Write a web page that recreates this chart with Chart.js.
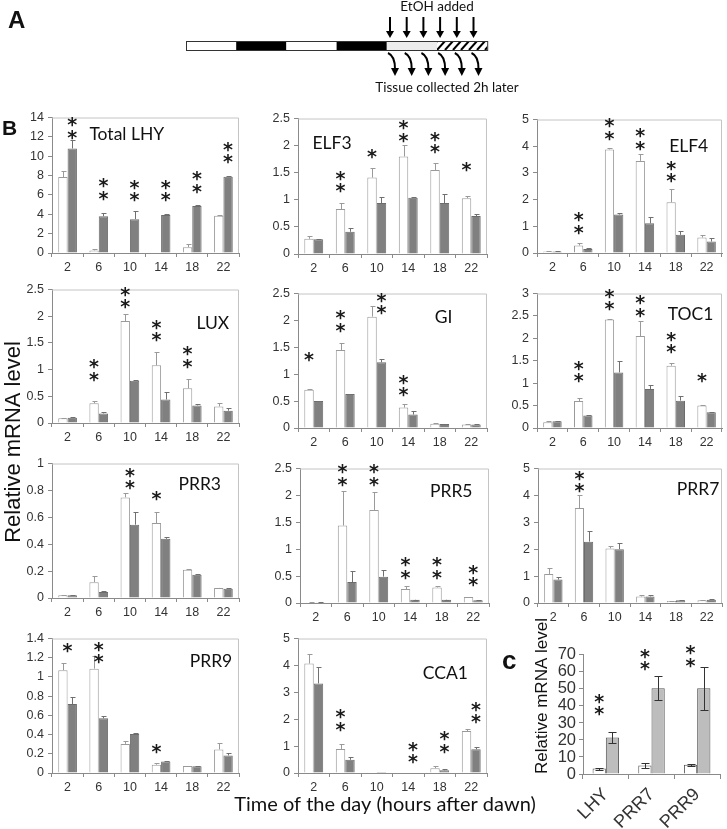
<!DOCTYPE html>
<html lang="en">
<head>
<meta charset="UTF-8">
<title>Clock gene expression after EtOH</title>
<script src="https://cdn.jsdelivr.net/npm/chart.js@4.4.0/dist/chart.umd.min.js"></script>
<style>
  body { margin: 0; background: #fff; }
  #fig { position: relative; width: 727px; height: 829px; overflow: hidden; }
  #fig canvas { position: absolute; }
  .txt { position: absolute; white-space: nowrap; color: #111; }
  .panel { font-family: "Liberation Sans", Arial, sans-serif; font-weight: bold; }
</style>
</head>
<body>
<div id="fig">
  <canvas id="bg" width="727" height="829" style="left:0;top:0;width:727px;height:829px;"></canvas>
  <div class="txt panel" style="left:8px;top:6px;font-size:24px;">A</div>
  <div class="txt panel" style="left:2px;top:116px;font-size:21px;">B</div>
  <div class="txt panel" style="left:502px;top:645px;font-size:26px;">c</div>
</div>
<script>
const hours = ['2', '6', '10', '14', '18', '22'];

// white = control, grey = EtOH; errors are upward deltas
const lhyCtrl = [7.85, 0.27, 0.04, 0.04, 0.6, 3.86];
const lhyCtrlErr = [0.65, 0.12, 0, 0, 0.32, 0.04];
const lhyEtoh = [10.8, 3.8, 3.5, 3.93, 4.85, 7.88];
const lhyEtohErr = [0.85, 0.35, 0.8, 0.12, 0.07, 0.06];
const lhyStars = ['**', '**', '**', '**', '**', '**'];
const lhyStarOn = ['g', 'g', 'g', 'g', 'g', 'g'];
const lhyStarY = [11.7, 5.4, 5.25, 5.25, 6.1, 9.15];

const elf3Ctrl = [0.28, 0.83, 1.41, 1.8, 1.55, 1.03];
const elf3CtrlErr = [0.05, 0.11, 0.17, 0.22, 0.13, 0.04];
const elf3Etoh = [0.27, 0.41, 0.94, 1.04, 0.94, 0.7];
const elf3EtohErr = [0.01, 0.07, 0.12, 0.01, 0.16, 0.03];
const elf3Stars = ['', '**', '*', '**', '**', '*'];
const elf3StarOn = ['w', 'w', 'w', 'w', 'w', 'w'];
const elf3StarY = [0, 1.12, 1.75, 2.05, 1.84, 1.52];

const elf4Ctrl = [0.06, 0.28, 3.88, 3.45, 1.9, 0.58];
const elf4CtrlErr = [0.01, 0.08, 0.05, 0.24, 0.48, 0.1];
const elf4Etoh = [0.06, 0.15, 1.44, 1.11, 0.68, 0.43];
const elf4EtohErr = [0.01, 0.02, 0.06, 0.24, 0.14, 0.12];
const elf4Stars = ['', '**', '**', '**', '**', ''];
const elf4StarOn = ['w', 'w', 'w', 'w', 'w', 'w'];
const elf4StarY = [0, 0.68, 4.2, 3.83, 2.62, 0];

const luxCtrl = [0.09, 0.37, 1.91, 1.08, 0.65, 0.31];
const luxCtrlErr = [0.01, 0.04, 0.14, 0.25, 0.18, 0.06];
const luxEtoh = [0.1, 0.18, 0.79, 0.44, 0.33, 0.23];
const luxEtohErr = [0.01, 0.02, 0.01, 0.14, 0.03, 0.05];
const luxStars = ['', '**', '**', '**', '**', ''];
const luxStarOn = ['w', 'w', 'w', 'w', 'w', 'w'];
const luxStarY = [0, 0.77, 2.13, 1.51, 1.02, 0];

const giCtrl = [0.71, 1.45, 2.07, 0.38, 0.08, 0.065];
const giCtrlErr = [0.02, 0.13, 0.2, 0.07, 0.01, 0.005];
const giEtoh = [0.5, 0.63, 1.22, 0.25, 0.075, 0.065];
const giEtohErr = [0.01, 0.01, 0.06, 0.07, 0.005, 0.005];
const giStars = ['*', '**', '**', '**', '', ''];
const giStarOn = ['w', 'w', 'g', 'w', 'w', 'w'];
const giStarY = [1.22, 1.77, 2.1, 0.57, 0, 0];

const toc1Ctrl = [0.13, 0.6, 2.42, 2.05, 1.39, 0.5];
const toc1CtrlErr = [0.03, 0.08, 0.01, 0.33, 0.07, 0.02];
const toc1Etoh = [0.15, 0.28, 1.24, 0.87, 0.61, 0.35];
const toc1EtohErr = [0.01, 0.02, 0.25, 0.1, 0.11, 0.01];
const toc1Stars = ['', '**', '**', '**', '**', '*'];
const toc1StarOn = ['w', 'w', 'w', 'w', 'w', 'w'];
const toc1StarY = [0, 1.0, 2.6, 2.46, 1.65, 1.0];

const prr3Ctrl = [0.02, 0.118, 0.748, 0.557, 0.21, 0.075];
const prr3CtrlErr = [0.003, 0.045, 0.03, 0.08, 0.007, 0.003];
const prr3Etoh = [0.02, 0.045, 0.545, 0.44, 0.172, 0.068];
const prr3EtohErr = [0.003, 0.01, 0.095, 0.015, 0.003, 0.003];
const prr3Stars = ['', '', '**', '*', '', ''];
const prr3StarOn = ['w', 'w', 'c', 'w', 'w', 'w'];
const prr3StarY = [0, 0, 0.8, 0.72, 0, 0];

const prr5Ctrl = [0.015, 1.44, 1.73, 0.26, 0.29, 0.11];
const prr5CtrlErr = [0.003, 0.64, 0.34, 0.06, 0.02, 0.01];
const prr5Etoh = [0.015, 0.39, 0.49, 0.06, 0.06, 0.05];
const prr5EtohErr = [0.003, 0.21, 0.12, 0.005, 0.005, 0.005];
const prr5Stars = ['', '**', '**', '**', '**', '**'];
const prr5StarOn = ['w', 'w', 'w', 'w', 'w', 'c'];
const prr5StarY = [0, 2.16, 2.16, 0.43, 0.43, 0.29];

const prr7Ctrl = [1.08, 3.53, 2.03, 0.245, 0.07, 0.1];
const prr7CtrlErr = [0.22, 0.47, 0.1, 0.05, 0.01, 0.03];
const prr7Etoh = [0.87, 2.28, 2.0, 0.245, 0.1, 0.12];
const prr7EtohErr = [0.11, 0.39, 0.24, 0.05, 0.01, 0.04];
const prr7Stars = ['', '**', '', '', '', ''];
const prr7StarOn = ['w', 'w', 'w', 'w', 'w', 'w'];
const prr7StarY = [0, 4.08, 0, 0, 0, 0];

const prr9Ctrl = [1.07, 1.086, 0.303, 0.086, 0.072, 0.245];
const prr9CtrlErr = [0.07, 0.13, 0.027, 0.021, 0.003, 0.065];
const prr9Etoh = [0.717, 0.569, 0.407, 0.12, 0.069, 0.183];
const prr9EtohErr = [0.069, 0.021, 0.013, 0.005, 0.003, 0.027];
const prr9Stars = ['*', '**', '', '*', '', ''];
const prr9StarOn = ['c', 'c', 'w', 'w', 'w', 'w'];
const prr9StarY = [1.245, 1.13, 0, 0.2, 0, 0];

const cca1Ctrl = [4.07, 0.895, 0.03, 0.02, 0.18, 1.56];
const cca1CtrlErr = [0.34, 0.175, 0, 0, 0.09, 0.06];
const cca1Etoh = [3.33, 0.49, 0.04, 0.02, 0.1, 0.88];
const cca1EtohErr = [0.62, 0.12, 0, 0, 0.05, 0.08];
const cca1Stars = ['', '**', '', '**', '**', '**'];
const cca1StarOn = ['w', 'w', 'w', 'g', 'g', 'g'];
const cca1StarY = [0, 1.53, 0, 0.33, 0.71, 1.81];

// panel c
const cGenes = ['LHY', 'PRR7', 'PRR9'];
const cCtrl = [3.2, 5.0, 5.5];
const cCtrlErr = [0.6, 1.2, 0.6];
const cEtoh = [21.4, 50.4, 50.4];
const cEtohErr = [3.4, 7.2, 12.5];
const cStars = ['**', '**', '**'];
const cStarOn = ['w', 'w', 'w'];
const cStarY = [33.8, 60.5, 62.4];

Chart.defaults.font.family = '"Liberation Sans", Arial, sans-serif';
Chart.defaults.color = '#333';

const fig = document.getElementById('fig');
const fmt = v => String(+(+v).toFixed(2));

function starX(chart, i, on) {
  const a = chart.getDatasetMeta(0).data[i], b = chart.getDatasetMeta(1).data[i];
  if (on === 'w') return a.x;
  if (on === 'g') return b.x;
  return (a.x + b.x) / 2;
}

function drawStars(chart, p, size) {
  const ctx = chart.ctx, y = chart.scales.y;
  ctx.save();
  ctx.fillStyle = '#1a1a1a';
  ctx.font = 'bold ' + size + 'px "DejaVu Sans"';
  ctx.textAlign = 'center';
  const m = ctx.measureText('*');
  const h = m.actualBoundingBoxAscent + m.actualBoundingBoxDescent;
  p.stars.forEach((s, i) => {
    if (!s) return;
    const x = starX(chart, i, p.starOn[i]);
    let bottom = y.getPixelForValue(p.starY[i]);
    for (let k = 0; k < s.length; k++) {
      ctx.fillText('*', x, bottom - m.actualBoundingBoxDescent);
      bottom -= h + 2.5;
    }
  });
  ctx.restore();
}

const YW = 46, PT = 10, PR = 6, XH = 26;

function addPanel(p) {
  const [l, t, r, b] = p.box;
  const W = r - l + YW + PR, H = b - t + PT + XH;
  const cv = document.createElement('canvas');
  cv.width = W; cv.height = H;
  cv.style.left = (l - YW) + 'px';
  cv.style.top = (t - PT) + 'px';
  cv.style.width = W + 'px'; cv.style.height = H + 'px';
  fig.appendChild(cv);

  const extras = {
    id: 'extras',
    beforeDatasetsDraw(chart) {
      const a = chart.chartArea, ctx = chart.ctx;
      ctx.save();
      ctx.strokeStyle = '#c4c4c4';
      ctx.lineWidth = 1;
      ctx.beginPath();
      ctx.moveTo(a.left, a.top + 0.5); ctx.lineTo(a.right - 0.5, a.top + 0.5); ctx.lineTo(a.right - 0.5, a.bottom);
      ctx.stroke();
      ctx.restore();
    },
    afterDatasetsDraw(chart) {
      const ctx = chart.ctx, y = chart.scales.y, a = chart.chartArea;
      ctx.save();
      [[p.ctrl, p.ctrlErr, '#9a9a9a'], [p.etoh, p.etohErr, '#707070']].forEach(([vals, errs, col], di) => {
        chart.getDatasetMeta(di).data.forEach((bar, i) => {
          if (!errs[i]) return;
          const y0 = y.getPixelForValue(vals[i]), y1 = Math.round(y.getPixelForValue(vals[i] + errs[i])) + 0.5;
          const x = Math.round(bar.x) + 0.5;
          ctx.strokeStyle = col; ctx.lineWidth = 1;
          ctx.beginPath();
          ctx.moveTo(x, y0); ctx.lineTo(x, y1);
          ctx.moveTo(x - 2, y1); ctx.lineTo(x + 3, y1);
          ctx.stroke();
        });
      });
      ctx.restore();
      drawStars(chart, p, 19);
      ctx.save();
      ctx.fillStyle = '#111';
      ctx.font = '17.5px Lato';
      ctx.textAlign = 'center';
      ctx.textBaseline = 'middle';
      ctx.fillText(p.name, a.left + p.lab[0] * (a.right - a.left), a.top + p.lab[1] * (a.bottom - a.top));
      ctx.restore();
    }
  };

  new Chart(cv, {
    type: 'bar',
    data: {
      labels: hours,
      datasets: [
        { data: p.ctrl, backgroundColor: '#ffffff', borderColor: '#9a9a9a', borderWidth: 1 },
        { data: p.etoh, backgroundColor: '#808080', borderColor: '#6c6c6c', borderWidth: 1 }
      ]
    },
    options: {
      responsive: false,
      animation: false,
      events: [],
      layout: { padding: { top: PT, right: PR, left: 0, bottom: 0 } },
      plugins: { legend: { display: false }, tooltip: { enabled: false } },
      datasets: { bar: { categoryPercentage: 0.6, barPercentage: 1 } },
      scales: {
        x: {
          grid: { offset: true, drawOnChartArea: false, tickLength: 4, color: '#8a8a8a' },
          border: { color: '#8a8a8a' },
          ticks: { font: { size: 12.5 }, color: '#333', padding: 3, maxRotation: 0, autoSkip: false },
          afterFit(s) { s.height = XH; }
        },
        y: {
          min: 0, max: p.max,
          grid: { drawOnChartArea: false, tickLength: 4, color: '#8a8a8a' },
          border: { color: '#8a8a8a' },
          ticks: { stepSize: p.step, font: { size: 12.5 }, color: '#333', padding: 4, autoSkip: false, callback: fmt },
          afterFit(s) { s.width = YW; }
        }
      }
    },
    plugins: [extras]
  });
}

const panels = [
  { name: 'Total LHY', ctrl: lhyCtrl, ctrlErr: lhyCtrlErr, etoh: lhyEtoh, etohErr: lhyEtohErr, stars: lhyStars, starOn: lhyStarOn, starY: lhyStarY, max: 14, step: 2, box: [52, 116, 239, 253], lab: [0.4, 0.124] },
  { name: 'ELF3', ctrl: elf3Ctrl, ctrlErr: elf3CtrlErr, etoh: elf3Etoh, etohErr: elf3EtohErr, stars: elf3Stars, starOn: elf3StarOn, starY: elf3StarY, max: 2.5, step: 0.5, box: [298, 117, 487, 254], lab: [0.18, 0.18] },
  { name: 'ELF4', ctrl: elf4Ctrl, ctrlErr: elf4CtrlErr, etoh: elf4Etoh, etohErr: elf4EtohErr, stars: elf4Stars, starOn: elf4StarOn, starY: elf4StarY, max: 5, step: 1, box: [537, 118, 722, 253], lab: [0.82, 0.2] },
  { name: 'LUX', ctrl: luxCtrl, ctrlErr: luxCtrlErr, etoh: luxEtoh, etohErr: luxEtohErr, stars: luxStars, starOn: luxStarOn, starY: luxStarY, max: 2.5, step: 0.5, box: [52, 288, 239, 423], lab: [0.86, 0.25] },
  { name: 'GI', ctrl: giCtrl, ctrlErr: giCtrlErr, etoh: giEtoh, etohErr: giEtohErr, stars: giStars, starOn: giStarOn, starY: giStarY, max: 2.5, step: 0.5, box: [298, 292, 487, 428], lab: [0.77, 0.18] },
  { name: 'TOC1', ctrl: toc1Ctrl, ctrlErr: toc1CtrlErr, etoh: toc1Etoh, etohErr: toc1EtohErr, stars: toc1Stars, starOn: toc1StarOn, starY: toc1StarY, max: 3, step: 0.5, box: [537, 292, 722, 428], lab: [0.83, 0.155] },
  { name: 'PRR3', ctrl: prr3Ctrl, ctrlErr: prr3CtrlErr, etoh: prr3Etoh, etohErr: prr3EtohErr, stars: prr3Stars, starOn: prr3StarOn, starY: prr3StarY, max: 1, step: 0.2, box: [52, 462, 239, 598], lab: [0.79, 0.155] },
  { name: 'PRR5', ctrl: prr5Ctrl, ctrlErr: prr5CtrlErr, etoh: prr5Etoh, etohErr: prr5EtohErr, stars: prr5Stars, starOn: prr5StarOn, starY: prr5StarY, max: 2.5, step: 0.5, box: [300, 467, 489, 603], lab: [0.8, 0.17] },
  { name: 'PRR7', ctrl: prr7Ctrl, ctrlErr: prr7CtrlErr, etoh: prr7Etoh, etohErr: prr7EtohErr, stars: prr7Stars, starOn: prr7StarOn, starY: prr7StarY, max: 5, step: 1, box: [538, 467, 722, 603], lab: [0.87, 0.155] },
  { name: 'PRR9', ctrl: prr9Ctrl, ctrlErr: prr9CtrlErr, etoh: prr9Etoh, etohErr: prr9EtohErr, stars: prr9Stars, starOn: prr9StarOn, starY: prr9StarY, max: 1.4, step: 0.2, box: [52, 637, 239, 773], lab: [0.85, 0.17] },
  { name: 'CCA1', ctrl: cca1Ctrl, ctrlErr: cca1CtrlErr, etoh: cca1Etoh, etohErr: cca1EtohErr, stars: cca1Stars, starOn: cca1StarOn, starY: cca1StarY, max: 5, step: 1, box: [298, 637, 487, 773], lab: [0.78, 0.26] }
];
panels.forEach(addPanel);

// panel c
(function () {
  const l = 583, t = 652, r = 720, b = 774;
  const yw = 40, pt = 10, pr = 6, xh = 56;
  const W = r - l + yw + pr, H = b - t + pt + xh;
  const cv = document.createElement('canvas');
  cv.width = W; cv.height = H;
  cv.style.left = (l - yw) + 'px'; cv.style.top = (t - pt) + 'px';
  cv.style.width = W + 'px'; cv.style.height = H + 'px';
  fig.appendChild(cv);
  const p = { stars: cStars, starOn: cStarOn, starY: cStarY };
  const extras = {
    id: 'extrasC',
    afterDatasetsDraw(chart) {
      const ctx = chart.ctx, y = chart.scales.y;
      ctx.save();
      ctx.strokeStyle = '#333'; ctx.lineWidth = 1;
      [[cCtrl, cCtrlErr], [cEtoh, cEtohErr]].forEach(([vals, errs], di) => {
        chart.getDatasetMeta(di).data.forEach((bar, i) => {
          const x = Math.round(bar.x) + 0.5;
          const hi = Math.round(y.getPixelForValue(vals[i] + errs[i])) + 0.5;
          const lo = Math.round(y.getPixelForValue(vals[i] - errs[i])) + 0.5;
          ctx.beginPath();
          ctx.moveTo(x, lo); ctx.lineTo(x, hi);
          ctx.moveTo(x - 4, hi); ctx.lineTo(x + 4, hi);
          ctx.moveTo(x - 4, lo); ctx.lineTo(x + 4, lo);
          ctx.stroke();
        });
      });
      ctx.restore();
      drawStars(chart, p, 19);
    }
  };
  new Chart(cv, {
    type: 'bar',
    data: {
      labels: cGenes,
      datasets: [
        { data: cCtrl, backgroundColor: '#ffffff', borderColor: '#555', borderWidth: 1 },
        { data: cEtoh, backgroundColor: '#bdbdbd', borderColor: '#555', borderWidth: 1 }
      ]
    },
    options: {
      responsive: false,
      animation: false,
      events: [],
      layout: { padding: { top: pt, right: pr, left: 0, bottom: 0 } },
      plugins: { legend: { display: false }, tooltip: { enabled: false } },
      datasets: { bar: { categoryPercentage: 0.58, barPercentage: 1 } },
      scales: {
        x: {
          grid: { offset: true, drawOnChartArea: false, tickLength: 5, color: '#8a8a8a' },
          border: { color: '#8a8a8a' },
          ticks: { font: { size: 18 }, color: '#333', padding: 5, minRotation: 45, maxRotation: 45, autoSkip: false },
          afterFit(s) { s.height = xh; }
        },
        y: {
          min: 0, max: 70,
          grid: { drawOnChartArea: false, tickLength: 4, color: '#8a8a8a' },
          border: { color: '#8a8a8a' },
          ticks: { stepSize: 10, font: { size: 16.5 }, color: '#333', padding: 3, autoSkip: false },
          afterFit(s) { s.width = yw; }
        }
      }
    },
    plugins: [extras]
  });
})();

// background: panel A schematic and axis titles
(function () {
  const ctx = document.getElementById('bg').getContext('2d');
  const x0 = 186, seg = 50.2, y0 = 41, h = 9;
  const fills = ['#fff', '#000', '#fff', '#000', '#ececec', 'hatch'];
  fills.forEach((f, i) => {
    const x = x0 + i * seg;
    if (f === 'hatch') {
      ctx.fillStyle = '#fff'; ctx.fillRect(x, y0, seg, h);
      ctx.save();
      ctx.beginPath(); ctx.rect(x, y0, seg, h); ctx.clip();
      ctx.strokeStyle = '#000'; ctx.lineWidth = 2;
      for (let k = -2; k < 10; k++) {
        ctx.beginPath(); ctx.moveTo(x + k * 8, y0 + h); ctx.lineTo(x + k * 8 + 8, y0); ctx.stroke();
      }
      ctx.restore();
    } else {
      ctx.fillStyle = f; ctx.fillRect(x, y0, seg, h);
    }
  });
  ctx.strokeStyle = '#333'; ctx.lineWidth = 1;
  ctx.strokeRect(x0 + 0.5, y0 + 0.5, seg * 6, h);

  ctx.fillStyle = '#000'; ctx.strokeStyle = '#000';
  for (let i = 0; i < 6; i++) {
    const x = 390 + i * 16.7;
    ctx.lineWidth = 2;
    ctx.beginPath(); ctx.moveTo(x, 17); ctx.lineTo(x, 32); ctx.stroke();
    ctx.beginPath(); ctx.moveTo(x - 4, 31); ctx.lineTo(x + 4, 31); ctx.lineTo(x, 38); ctx.closePath(); ctx.fill();
    // curved arrows under the bar
    const cx = x + 1;
    ctx.beginPath(); ctx.moveTo(cx - 3, 53); ctx.quadraticCurveTo(cx + 4, 56, cx + 4, 69); ctx.stroke();
    ctx.beginPath(); ctx.moveTo(cx, 68); ctx.lineTo(cx + 8, 68); ctx.lineTo(cx + 4, 76); ctx.closePath(); ctx.fill();
  }
  ctx.fillStyle = '#111';
  ctx.font = '13.5px Lato';
  ctx.textAlign = 'center'; ctx.textBaseline = 'middle';
  ctx.fillText('EtOH added', 437, 7);
  ctx.fillText('Tissue collected 2h later', 447, 88);

  ctx.font = '20px Lato';
  ctx.fillText('Time of the day (hours after dawn)', 385, 805);

  ctx.save();
  ctx.translate(14, 442); ctx.rotate(-Math.PI / 2);
  ctx.font = '22px "Liberation Sans"';
  ctx.fillText('Relative mRNA level', 0, 0);
  ctx.restore();

  ctx.save();
  ctx.translate(542, 696); ctx.rotate(-Math.PI / 2);
  ctx.font = '17px "Liberation Sans"';
  ctx.fillText('Relative mRNA level', 0, 0);
  ctx.restore();
})();
</script>
</body>
</html>
